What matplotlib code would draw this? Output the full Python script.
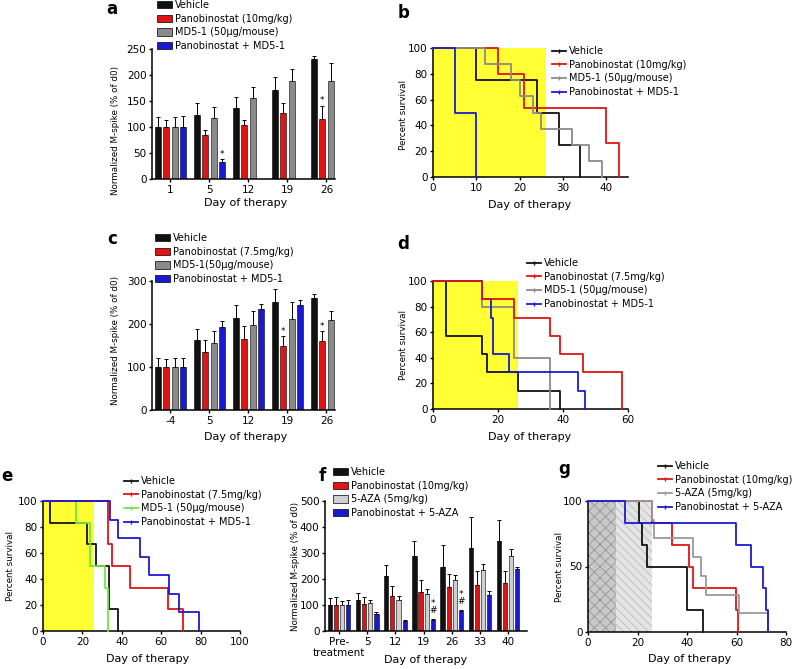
import numpy as np
import matplotlib
matplotlib.use('Agg')
import matplotlib.pyplot as plt
import matplotlib.patches as mpatches
from matplotlib.lines import Line2D

plt.rcParams['font.family'] = ['DejaVu Sans']
plt.rcParams['font.size'] = 7.5
plt.rcParams['hatch.linewidth'] = 0.5

W, H = 794, 669
nan = np.nan

# ---- panel a : M-spike, 10mg/kg ----
a_days = ['1', '5', '12', '19', '26']
a_labels = ['Vehicle', 'Panobinostat (10mg/kg)', 'MD5-1 (50µg/mouse)', 'Panobinostat + MD5-1']
a_vehicle = [100, 124, 137, 171, 230]
a_vehicle_err = [20, 23, 20, 26, 7]
a_pano = [100, 84, 103, 126, 115]
a_pano_err = [14, 10, 11, 20, 26]
a_md5 = [100, 117, 156, 189, 188]
a_md5_err = [20, 21, 20, 22, 36]
a_combo = [100, 32, nan, nan, nan]
a_combo_err = [21, 6, nan, nan, nan]
a_marks = [(1, 3, '*'), (4, 1, '*')]   # (group, series, text)

# ---- panel b : survival, 10mg/kg ----
b_labels = ['Vehicle', 'Panobinostat (10mg/kg)', 'MD5-1 (50µg/mouse)', 'Panobinostat + MD5-1']
b_vehicle_t = [0, 10, 24, 29, 34]
b_vehicle_s = [100, 75, 50, 25, 0]
b_pano_t = [0, 15, 21, 40, 43]
b_pano_s = [100, 80, 53.3, 26.7, 0]
b_md5_t = [0, 12, 18, 20, 23, 25, 32, 36, 39]
b_md5_s = [100, 87.5, 75, 62.5, 50, 37.5, 25, 12.5, 0]
b_combo_t = [0, 5, 10]
b_combo_s = [100, 50, 0]
b_treat = 26

# ---- panel c : M-spike, 7.5mg/kg ----
c_days = ['-4', '5', '12', '19', '26']
c_labels = ['Vehicle', 'Panobinostat (7.5mg/kg)', 'MD5-1(50µg/mouse)', 'Panobinostat + MD5-1']
c_vehicle = [100, 163, 215, 251, 260]
c_vehicle_err = [20, 26, 29, 30, 10]
c_pano = [100, 136, 166, 148, 160]
c_pano_err = [18, 26, 30, 23, 24]
c_md5 = [100, 155, 197, 212, 210]
c_md5_err = [20, 28, 33, 39, 20]
c_combo = [100, 194, 234, 244, 253]
c_combo_err = [20, 13, 12, 12, 22]
c_marks = [(3, 1, '*'), (4, 1, '*')]

# ---- panel d : survival, 7.5mg/kg ----
d_labels = ['Vehicle', 'Panobinostat (7.5mg/kg)', 'MD5-1 (50µg/mouse)', 'Panobinostat + MD5-1']
d_vehicle_t = [0, 4, 15, 16.5, 26, 39]
d_vehicle_s = [100, 57.1, 42.9, 28.6, 14.3, 0]
d_pano_t = [0, 15, 25, 36, 39, 46, 58]
d_pano_s = [100, 85.7, 71.4, 57.1, 42.9, 28.6, 0]
d_md5_t = [0, 15, 25, 36]
d_md5_s = [100, 80, 40, 0]
d_combo_t = [0, 15, 17.9, 18.5, 23.4, 44.6, 46.8]
d_combo_s = [100, 85.7, 71.4, 42.9, 28.6, 14.3, 0]
d_treat = 26

# ---- panel e : survival ----
e_labels = ['Vehicle', 'Panobinostat (7.5mg/kg)', 'MD5-1 (50µg/mouse)', 'Panobinostat + MD5-1']
e_vehicle_t = [0, 3.5, 22.5, 27, 33.5, 38]
e_vehicle_s = [100, 83.3, 66.7, 50, 16.7, 0]
e_pano_t = [0, 33, 35, 44, 63.5, 71]
e_pano_s = [100, 66.7, 50, 33.3, 16.7, 0]
e_md5_t = [0, 17, 24, 31.5, 33]
e_md5_s = [100, 83.3, 50, 33.3, 0]
e_combo_t = [0, 34, 38, 49, 54, 64, 69, 79]
e_combo_s = [100, 85.7, 71.4, 57.1, 42.9, 28.6, 14.3, 0]
e_treat = 26

# ---- panel f : M-spike, 5-AZA ----
f_days = ['Pre-\ntreatment', '5', '12', '19', '26', '33', '40']
f_labels = ['Vehicle', 'Panobinostat (10mg/kg)', '5-AZA (5mg/kg)', 'Panobinostat + 5-AZA']
f_vehicle = [100, 120, 212, 287, 246, 320, 348]
f_vehicle_err = [26, 27, 43, 58, 85, 117, 80]
f_pano = [100, 103, 136, 150, 170, 176, 183]
f_pano_err = [30, 28, 37, 48, 51, 56, 49]
f_aza = [100, 106, 118, 143, 197, 235, 290]
f_aza_err = [17, 12, 15, 19, 20, 21, 26]
f_combo = [100, 65, 40, 43, 77, 140, 237]
f_combo_err = [18, 10, 3, 4, 5, 15, 10]
f_marks = [(3, 3, '#'), (3, 3, '*'), (4, 3, '#'), (4, 3, '*')]

# ---- panel g : survival, 5-AZA ----
g_labels = ['Vehicle', 'Panobinostat (10mg/kg)', '5-AZA (5mg/kg)', 'Panobinostat + 5-AZA']
g_vehicle_t = [0, 20.6, 22, 24, 40, 46.5]
g_vehicle_s = [100, 83.3, 66.7, 50, 16.7, 0]
g_pano_t = [0, 26, 34, 40.8, 42.4, 59.8, 60.6]
g_pano_s = [100, 83.3, 66.7, 50, 33.3, 16.7, 0]
g_aza_t = [0, 26, 26.7, 42.3, 45.7, 47.7, 61, 72.8]
g_aza_s = [100, 85.7, 71.4, 57.1, 42.9, 28.6, 14.3, 0]
g_combo_t = [0, 15, 59.8, 66, 70.6, 72, 72.8]
g_combo_s = [100, 83.3, 66.7, 50, 33.3, 16.7, 0]
g_phase1 = 11.5
g_phase2 = 26

BLACK = '#111111'
RED = '#e01414'
GREY = '#8a8a8a'
LIGHT = '#cfcfcf'
BLUE = '#1a1ad0'
GREEN = '#6ee83c'
YELLOW = '#ffff33'


fig = plt.figure(figsize=(W / 100, H / 100), dpi=100)


def px_axes(x0, x1, ytop, ybot):
	ax = fig.add_axes([x0 / W, 1 - ybot / H, (x1 - x0) / W, (ybot - ytop) / H])
	for s in ['top', 'right']:
		ax.spines[s].set_visible(False)
	for s in ['left', 'bottom']:
		ax.spines[s].set_linewidth(1.1)
	ax.tick_params(length=2.5, width=1.0, pad=1.5, labelsize=7.5)
	return ax


def ftext(x, y, s, **kw):
	fig.text(x / W, 1 - y / H, s, **kw)


def bar_panel(ax, groups, series, errs, colors, marks, step):
	x = np.arange(len(groups))
	offs = (np.arange(4) - 1.5) * 0.218
	for k in range(4):
		vals = np.array(series[k], float)
		err = np.array(errs[k], float)
		ok = ~np.isnan(vals)
		xs = x[ok] + offs[k]
		ax.errorbar(xs, vals[ok], yerr=[np.zeros(ok.sum()), err[ok]], fmt='none',
			ecolor='black', elinewidth=0.7, capsize=1.3, capthick=0.7, zorder=1)
		ax.bar(xs, vals[ok], 0.15, color=colors[k], edgecolor='black', linewidth=0.4, zorder=2)
	done = {}
	for g, k, txt in marks:
		top = series[k][g] + errs[k][g] + step * (1 + done.get((g, k), 0))
		done[(g, k)] = done.get((g, k), 0) + 1
		ax.text(x[g] + offs[k], top, txt, ha='center', va='center', fontsize=6.5)
	ax.set_xticks(x)
	ax.set_xticklabels(groups)


def bar_legend(labels, colors, x, y):
	hs = [mpatches.Patch(facecolor=c, edgecolor='black', linewidth=0.5, label=l) for c, l in zip(colors, labels)]
	fig.legend(handles=hs, loc='upper left', bbox_to_anchor=(x / W, 1 - y / H),
		frameon=False, borderpad=0, borderaxespad=0, handlelength=1.5, handleheight=0.8,
		handletextpad=0.35, labelspacing=0.38, fontsize=7)


def km_legend(labels, colors, x, y):
	hs = [Line2D([0], [0], color=c, lw=1.3, marker='|', markersize=3, label=l) for c, l in zip(colors, labels)]
	fig.legend(handles=hs, loc='upper left', bbox_to_anchor=(x / W, 1 - y / H),
		frameon=False, borderpad=0, borderaxespad=0, handlelength=1.4,
		handletextpad=0.35, labelspacing=0.38, fontsize=7)


def km(ax, curves, colors):
	for (t, s), c in zip(curves, colors):
		ax.step(t, s, where='post', color=c, lw=1.3, clip_on=False, zorder=3)


# panel a
ax = px_axes(152, 335, 49, 179)
bar_panel(ax, a_days, [a_vehicle, a_pano, a_md5, a_combo],
	[a_vehicle_err, a_pano_err, a_md5_err, a_combo_err], [BLACK, RED, GREY, BLUE], a_marks, 9)
ax.set_xlim(-0.47, 4.22)
ax.set_ylim(0, 250)
ax.set_yticks(range(0, 251, 50))
bar_legend(a_labels, [BLACK, RED, GREY, BLUE], 157, 0)
ftext(116, 130, 'Normalized M-spike (% of d0)', rotation=90, ha='center', va='center', fontsize=6.3)
ftext(246, 203, 'Day of therapy', ha='center', va='center', fontsize=8)
ftext(106, 14, 'a', fontsize=12, fontweight='bold')

# panel b
ax = px_axes(433, 628, 48, 177)
ax.axvspan(0, b_treat, ymax=1, color=YELLOW, zorder=0, lw=0)
km(ax, [(b_vehicle_t, b_vehicle_s), (b_pano_t, b_pano_s), (b_md5_t, b_md5_s), (b_combo_t, b_combo_s)],
	[BLACK, RED, GREY, BLUE])
ax.set_xlim(0, 45)
ax.set_ylim(0, 100)
ax.set_xticks(range(0, 41, 10))
ax.set_yticks(range(0, 101, 20))
km_legend(b_labels, [BLACK, RED, GREY, BLUE], 552, 46)
ftext(403, 115, 'Percent survival', rotation=90, ha='center', va='center', fontsize=6.3)
ftext(530, 205, 'Day of therapy', ha='center', va='center', fontsize=8)
ftext(398, 18, 'b', fontsize=12, fontweight='bold')

# panel c
ax = px_axes(152, 335, 281, 410)
bar_panel(ax, c_days, [c_vehicle, c_pano, c_md5, c_combo],
	[c_vehicle_err, c_pano_err, c_md5_err, c_combo_err], [BLACK, RED, GREY, BLUE], c_marks, 11)
ax.set_xlim(-0.47, 4.22)
ax.set_ylim(0, 300)
ax.set_yticks(range(0, 301, 100))
bar_legend(c_labels, [BLACK, RED, GREY, BLUE], 155, 233)
ftext(116, 340, 'Normalized M-spike (% of d0)', rotation=90, ha='center', va='center', fontsize=6.3)
ftext(246, 437, 'Day of therapy', ha='center', va='center', fontsize=8)
ftext(107, 244, 'c', fontsize=12, fontweight='bold')

# panel d
ax = px_axes(433, 628, 281, 409)
ax.axvspan(0, d_treat, color=YELLOW, zorder=0, lw=0)
km(ax, [(d_vehicle_t, d_vehicle_s), (d_md5_t, d_md5_s), (d_combo_t, d_combo_s), (d_pano_t, d_pano_s)],
	[BLACK, GREY, BLUE, RED])
ax.set_xlim(0, 60)
ax.set_ylim(0, 100)
ax.set_xticks(range(0, 61, 20))
ax.set_yticks(range(0, 101, 20))
km_legend(d_labels, [BLACK, RED, GREY, BLUE], 527, 258)
ftext(403, 345, 'Percent survival', rotation=90, ha='center', va='center', fontsize=6.3)
ftext(530, 437, 'Day of therapy', ha='center', va='center', fontsize=8)
ftext(397, 249, 'd', fontsize=12, fontweight='bold')

# panel e
ax = px_axes(43, 240, 501, 631)
ax.axvspan(0, e_treat, color=YELLOW, zorder=0, lw=0)
km(ax, [(e_vehicle_t, e_vehicle_s), (e_md5_t, e_md5_s), (e_pano_t, e_pano_s), (e_combo_t, e_combo_s)],
	[BLACK, GREEN, RED, BLUE])
ax.set_xlim(0, 100)
ax.set_ylim(0, 100)
ax.set_xticks(range(0, 101, 20))
ax.set_yticks(range(0, 101, 20))
km_legend(e_labels, [BLACK, RED, GREEN, BLUE], 124, 476)
ftext(11, 566, 'Percent survival', rotation=90, ha='center', va='center', fontsize=6.3)
ftext(148, 659, 'Day of therapy', ha='center', va='center', fontsize=8)
ftext(1, 481, 'e', fontsize=12, fontweight='bold')

# panel f
ax = px_axes(325, 527, 501, 631)
bar_panel(ax, f_days, [f_vehicle, f_pano, f_aza, f_combo],
	[f_vehicle_err, f_pano_err, f_aza_err, f_combo_err], [BLACK, RED, LIGHT, BLUE], f_marks, 30)
ax.set_xlim(-0.5, 6.67)
ax.set_ylim(0, 500)
ax.set_yticks(range(0, 501, 100))
bar_legend(f_labels, [BLACK, RED, LIGHT, BLUE], 333, 467)
ftext(295, 566, 'Normalized M-spike (% of d0)', rotation=90, ha='center', va='center', fontsize=6.3)
ftext(426, 660, 'Day of therapy', ha='center', va='center', fontsize=8)
ftext(319, 481, 'f', fontsize=12, fontweight='bold')

# panel g
ax = px_axes(588, 786, 501, 632)
ax.axvspan(0, g_phase1, facecolor='#c8c8c8', edgecolor='#8c8c8c', hatch='xxx', zorder=0, lw=0)
ax.axvspan(g_phase1, g_phase2, facecolor='#e4e4e4', edgecolor='#b0b0b0', hatch='\\\\\\\\', zorder=0, lw=0)
km(ax, [(g_vehicle_t, g_vehicle_s), (g_pano_t, g_pano_s), (g_aza_t, g_aza_s), (g_combo_t, g_combo_s)],
	[BLACK, RED, '#9a9a9a', BLUE])
ax.set_xlim(0, 80)
ax.set_ylim(0, 100)
ax.set_xticks(range(0, 81, 20))
ax.set_yticks([0, 50, 100])
km_legend(g_labels, [BLACK, RED, '#9a9a9a', BLUE], 658, 461)
ftext(559, 567, 'Percent survival', rotation=90, ha='center', va='center', fontsize=6.3)
ftext(690, 659, 'Day of therapy', ha='center', va='center', fontsize=8)
ftext(558, 474, 'g', fontsize=12, fontweight='bold')

fig.savefig('out.png', dpi=100)
